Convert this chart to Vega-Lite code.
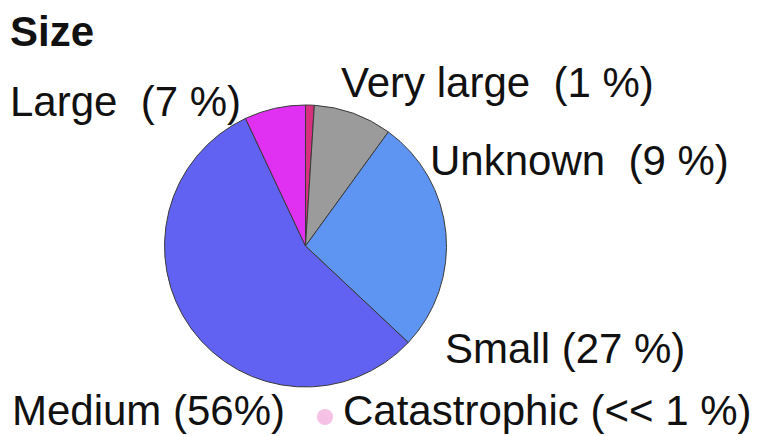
{
  "$schema": "https://vega.github.io/schema/vega-lite/v6.json",
  "width": 762,
  "height": 436,
  "autosize": {"type": "none"},
  "padding": 0,
  "background": "white",
  "config": {
    "view": {"stroke": null},
    "text": {"font": "Liberation Sans", "fontSize": 42, "color": "#111111", "align": "left", "baseline": "alphabetic"}
  },
  "datasets": {
    "slices": [
      {"size": "Very large", "share": 1, "rank": 1},
      {"size": "Unknown", "share": 9, "rank": 2},
      {"size": "Small", "share": 27, "rank": 3},
      {"size": "Medium", "share": 56, "rank": 4},
      {"size": "Large", "share": 7, "rank": 5}
    ],
    "labels": [
      {"label": "Large \u00a0(7 %)", "lx": -2.096, "ly": 0.922},
      {"label": "Very large \u00a0(1 %)", "lx": 0.252, "ly": 1.057},
      {"label": "Unknown \u00a0(9 %)", "lx": 0.883, "ly": 0.504},
      {"label": "Small (27 %)", "lx": 0.989, "ly": -0.83},
      {"label": "Medium (56%)", "lx": -2.082, "ly": -1.27},
      {"label": "Catastrophic (<< 1 %)", "lx": 0.266, "ly": -1.27}
    ],
    "heading": [
      {"label": "Size", "lx": -2.096, "ly": 1.418}
    ],
    "marker": [
      {"size": "Catastrophic", "lx": 0.138, "ly": -1.213}
    ]
  },
  "layer": [
    {
      "data": {"name": "slices"},
      "mark": {"type": "arc", "outerRadius": 141, "stroke": "#3a3a3a", "strokeWidth": 1},
      "encoding": {
        "theta": {"field": "share", "type": "quantitative", "stack": true},
        "order": {"field": "rank", "type": "quantitative"},
        "color": {
          "field": "size",
          "type": "nominal",
          "scale": {
            "domain": ["Very large", "Unknown", "Small", "Medium", "Large"],
            "range": ["#d6307e", "#9b9b9b", "#5f95f2", "#6262f2", "#e030f2"]
          },
          "legend": null
        },
        "x": {"datum": 0, "type": "quantitative", "scale": {"domain": [-2.1667, 3.2376], "nice": false, "zero": false}, "axis": null},
        "y": {"datum": 0, "type": "quantitative", "scale": {"domain": [-1.3475, 1.7447], "nice": false, "zero": false}, "axis": null}
      }
    },
    {
      "data": {"name": "marker"},
      "mark": {"type": "point", "filled": true, "shape": "circle", "size": 260, "color": "#f5c2e6", "opacity": 1},
      "encoding": {
        "x": {"field": "lx", "type": "quantitative", "axis": null},
        "y": {"field": "ly", "type": "quantitative", "axis": null}
      }
    },
    {
      "data": {"name": "labels"},
      "mark": {"type": "text"},
      "encoding": {
        "x": {"field": "lx", "type": "quantitative", "axis": null},
        "y": {"field": "ly", "type": "quantitative", "axis": null},
        "text": {"field": "label", "type": "nominal"}
      }
    },
    {
      "data": {"name": "heading"},
      "mark": {"type": "text", "fontWeight": "bold"},
      "encoding": {
        "x": {"field": "lx", "type": "quantitative", "axis": null},
        "y": {"field": "ly", "type": "quantitative", "axis": null},
        "text": {"field": "label", "type": "nominal"}
      }
    }
  ]
}
